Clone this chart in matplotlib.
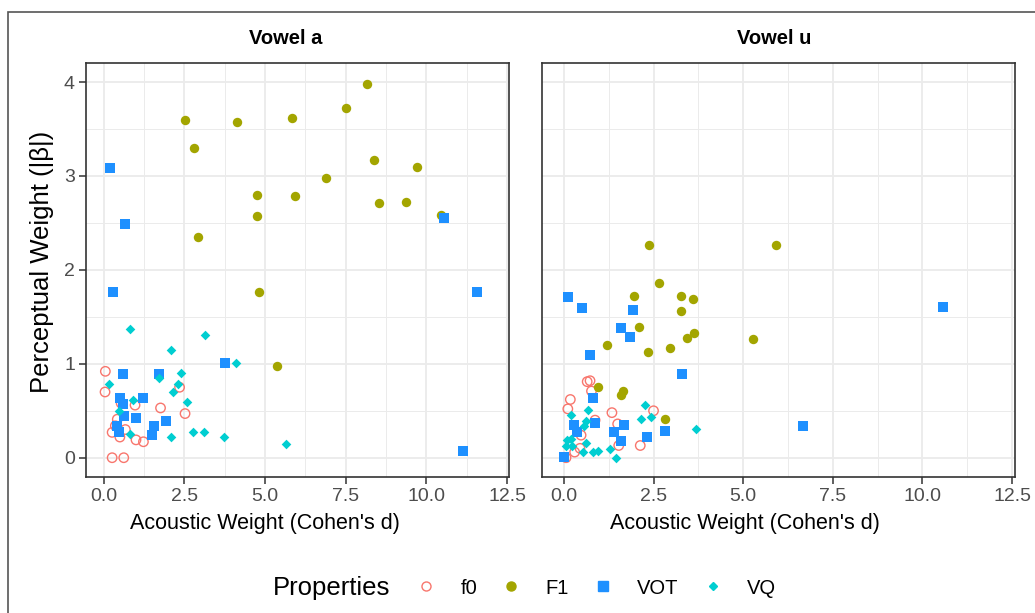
import matplotlib
matplotlib.use("Agg")
import matplotlib.pyplot as plt
from matplotlib.lines import Line2D
from matplotlib.patches import Rectangle
from matplotlib.ticker import MultipleLocator

plt.rcParams['font.family'] = ['Liberation Sans', 'DejaVu Sans']

# ---- Vowel a ----
a_f0_x = [0.05, 0.04, 2.35, 0.97, 1.76, 2.52, 0.54, 0.42, 0.36, 0.26, 0.50, 0.67, 1.00, 1.23, 0.26, 0.62]
a_f0_y = [0.92, 0.70, 0.75, 0.56, 0.53, 0.47, 0.58, 0.41, 0.34, 0.27, 0.22, 0.30, 0.19, 0.17, 0.00, 0.00]

a_F1_x = [2.52, 4.12, 5.85, 7.51, 8.17, 2.80, 8.39, 9.71, 6.89, 4.74, 5.92, 8.53, 9.38, 4.75, 10.46, 2.92, 4.82, 5.36]
a_F1_y = [3.60, 3.58, 3.62, 3.72, 3.98, 3.30, 3.17, 3.10, 2.98, 2.80, 2.79, 2.71, 2.72, 2.57, 2.58, 2.35, 1.76, 0.98]

a_VOT_x = [0.20, 0.66, 0.28, 10.55, 11.57, 11.13, 0.60, 1.70, 3.77, 0.49, 0.59, 1.22, 0.62, 0.99, 1.92, 1.57, 1.49, 0.40, 0.47]
a_VOT_y = [3.08, 2.49, 1.76, 2.55, 1.76, 0.07, 0.89, 0.89, 1.01, 0.64, 0.57, 0.64, 0.44, 0.42, 0.39, 0.34, 0.24, 0.34, 0.27]

a_VQ_x = [0.80, 3.15, 2.07, 4.09, 0.17, 1.71, 2.40, 2.31, 2.14, 2.57, 0.90, 0.47, 0.80, 2.07, 2.76, 3.12, 3.72, 5.64]
a_VQ_y = [1.37, 1.31, 1.15, 1.01, 0.79, 0.85, 0.90, 0.78, 0.70, 0.59, 0.61, 0.50, 0.25, 0.22, 0.27, 0.27, 0.22, 0.15]

# ---- Vowel u ----
u_f0_x = [0.65, 0.73, 0.77, 0.18, 0.11, 1.34, 2.50, 0.87, 1.50, 0.48, 1.53, 2.13, 0.45, 0.30, 0.06]
u_f0_y = [0.81, 0.82, 0.71, 0.62, 0.52, 0.48, 0.50, 0.40, 0.36, 0.24, 0.13, 0.13, 0.10, 0.06, 0.00]

u_F1_x = [2.37, 5.91, 2.64, 1.96, 3.27, 3.61, 3.26, 2.10, 3.62, 3.42, 5.26, 1.21, 2.96, 2.34, 0.95, 1.66, 1.58, 2.82]
u_F1_y = [2.27, 2.27, 1.86, 1.72, 1.72, 1.69, 1.56, 1.39, 1.33, 1.28, 1.26, 1.20, 1.17, 1.13, 0.75, 0.71, 0.67, 0.41]

u_VOT_x = [0.11, 0.50, 1.92, 1.60, 1.84, 0.74, 3.30, 10.57, 6.67, 0.81, 0.29, 0.37, 0.86, 1.67, 1.41, 1.60, 2.31, 2.83, 0.01]
u_VOT_y = [1.71, 1.59, 1.57, 1.38, 1.29, 1.09, 0.89, 1.60, 0.34, 0.64, 0.35, 0.27, 0.37, 0.35, 0.27, 0.18, 0.22, 0.28, 0.01]

u_VQ_x = [2.27, 0.66, 0.20, 2.15, 2.44, 0.61, 0.55, 3.69, 0.10, 0.21, 0.07, 0.22, 0.62, 0.54, 0.80, 0.95, 1.29, 1.46]
u_VQ_y = [0.56, 0.51, 0.46, 0.41, 0.43, 0.39, 0.34, 0.31, 0.19, 0.20, 0.12, 0.12, 0.16, 0.06, 0.06, 0.07, 0.09, 0.00]

x_ticks = [0.0, 2.5, 5.0, 7.5, 10.0, 12.5]
y_ticks = [0, 1, 2, 3, 4]

col = {'f0': '#F8766D', 'F1': '#A3A500', 'VOT': '#1E90FF', 'VQ': '#00CED1'}

W, H = 1035, 613
fig = plt.figure(figsize=(W / 100, H / 100), dpi=100)

# 그림 바깥 테두리 (잘린 스크린샷)
fig.add_artist(Rectangle((8 / W, -0.5), 1.5, 1 - 12 / H + 0.5, transform=fig.transFigure,
                         fill=False, edgecolor='#555555', lw=1.2))

top, bot = 63.3, 476.5
ax1 = fig.add_axes([86 / W, 1 - bot / H, (509 - 86) / W, (bot - top) / H])
ax2 = fig.add_axes([542 / W, 1 - bot / H, (1015 - 542) / W, (bot - top) / H])


def draw(ax, f0x, f0y, f1x, f1y, votx, voty, vqx, vqy, xlim):
    ax.scatter(f0x, f0y, s=46, marker='o', facecolors='none', edgecolors=col['f0'], linewidths=1.0, zorder=3)
    ax.scatter(f1x, f1y, s=46, marker='o', color=col['F1'], linewidths=0, zorder=3)
    ax.scatter(votx, voty, s=46, marker='s', color=col['VOT'], linewidths=0, zorder=3)
    ax.scatter(vqx, vqy, s=24, marker='D', color=col['VQ'], linewidths=0, zorder=3)
    ax.set_xlim(xlim)
    ax.set_ylim(-0.2, 4.2)
    ax.set_xticks(x_ticks)
    ax.set_xticklabels(['0.0', '2.5', '5.0', '7.5', '10.0', '12.5'])
    ax.set_yticks(y_ticks)
    ax.xaxis.set_minor_locator(MultipleLocator(1.25))
    ax.yaxis.set_minor_locator(MultipleLocator(0.5))
    ax.grid(which='major', color='#ebebeb', lw=1.3)
    ax.grid(which='minor', color='#ebebeb', lw=0.7)
    ax.set_axisbelow(True)
    ax.tick_params(which='major', length=5, width=1.1, color='#333333', labelcolor='#4d4d4d',
                   labelsize=14, pad=3)
    ax.tick_params(which='minor', length=0)
    for s in ax.spines.values():
        s.set_color('#333333')
        s.set_linewidth(1.2)


draw(ax1, a_f0_x, a_f0_y, a_F1_x, a_F1_y, a_VOT_x, a_VOT_y, a_VQ_x, a_VQ_y, (-0.55, 12.56))
draw(ax2, u_f0_x, u_f0_y, u_F1_x, u_F1_y, u_VOT_x, u_VOT_y, u_VQ_x, u_VQ_y, (-0.61, 12.58))
ax2.tick_params(axis='y', left=False, labelleft=False)

# 제목과 축 이름
fig.text(286 / W, 1 - 38 / H, 'Vowel a', ha='center', va='center', fontsize=14.5, fontweight='bold')
fig.text(774 / W, 1 - 38 / H, 'Vowel u', ha='center', va='center', fontsize=14.5, fontweight='bold')
fig.text(265 / W, 1 - 523 / H, "Acoustic Weight (Cohen's d)", ha='center', va='center', fontsize=15.5)
fig.text(745 / W, 1 - 523 / H, "Acoustic Weight (Cohen's d)", ha='center', va='center', fontsize=15.5)
fig.text(42 / W, 1 - 262 / H, 'Perceptual Weight (|β|)', ha='center', va='center', rotation=90, fontsize=18.5)

# 범례
handles = [
    Line2D([], [], ls='', marker='o', mfc='none', mec=col['f0'], mew=1.0, ms=6.5),
    Line2D([], [], ls='', marker='o', color=col['F1'], ms=6.5),
    Line2D([], [], ls='', marker='s', color=col['VOT'], ms=6.5),
    Line2D([], [], ls='', marker='D', color=col['VQ'], ms=4.5),
]
fig.legend(handles, ['f0', 'F1', 'VOT', 'VQ'], ncol=4, loc='center left',
           bbox_to_anchor=(416 / W, 1 - 588 / H), frameon=False, fontsize=14.5,
           handlelength=1.0, handletextpad=1.2, columnspacing=1.2, borderpad=0, borderaxespad=0)
fig.text(273 / W, 1 - 588 / H, 'Properties', ha='left', va='center', fontsize=18.5)

fig.savefig('out.png', dpi=100)
